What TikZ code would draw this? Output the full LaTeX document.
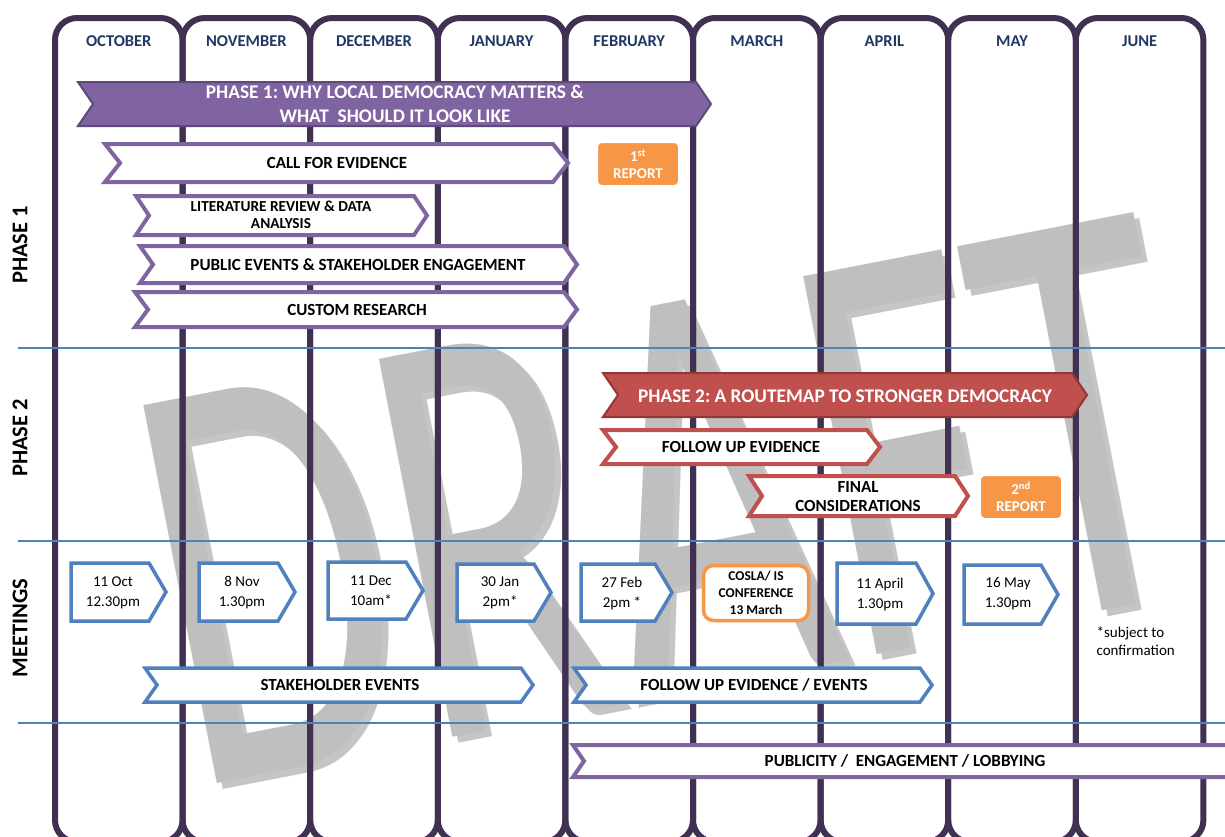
\documentclass[tikz,border=0pt]{standalone}
\usepackage{fontspec}
\setmainfont{Carlito}
\usepackage{graphicx}
\usetikzlibrary{shadows}
\frenchspacing

\definecolor{colline}{HTML}{403152}
\definecolor{monthblue}{HTML}{1F3864}
\definecolor{purpfill}{HTML}{8064A2}
\definecolor{purpdark}{HTML}{5F497A}
\definecolor{redfill}{HTML}{C0504D}
\definecolor{reddark}{HTML}{943634}
\definecolor{orangefill}{HTML}{F79646}
\definecolor{meetblue}{HTML}{4F81BD}
\definecolor{wmgrey}{HTML}{BFBFBF}

% chevron band: style, left, right, top, bottom, depth
\newcommand{\chevband}[6]{%
  \draw[#1] (#2,#4) -- ({#3-#6},#4) -- (#3,{(#4+#5)/2}) -- ({#3-#6},#5)
    -- (#2,#5) -- ({#2+#6},{(#4+#5)/2}) -- cycle;}
% meeting tag: left, right, top, bottom, depth
\newcommand{\datebox}[5]{%
  \draw[meetline] (#1,#3) -- ({#2-#5},#3) -- (#2,{(#3+#4)/2}) -- ({#2-#5},#4)
    -- (#1,#4) -- cycle;}

\tikzset{
  monthcol/.style={draw=colline, line width=6pt, rounded corners=22pt},
  month/.style={text=monthblue, font=\bfseries\fontsize{16.5}{18}\selectfont},
  rowlabel/.style={rotate=90, font=\bfseries\fontsize{22.5}{24}\selectfont},
  sepline/.style={draw=meetblue, line width=1.1pt},
  phaseone/.style={fill=purpfill, draw=purpdark, line width=2pt},
  phasetwo/.style={fill=redfill, draw=reddark, line width=2pt},
  purpband/.style={fill=white, draw=purpfill, line width=4pt},
  redband/.style={fill=white, draw=redfill, line width=4pt},
  blueband/.style={fill=white, draw=meetblue, line width=3.5pt},
  meetline/.style={fill=white, draw=meetblue, line width=3.5pt},
  phasetext/.style={text=white, align=center, font=\bfseries\fontsize{19.3}{23.5}\selectfont},
  bandtext/.style={align=center, font=\bfseries\fontsize{17}{19}\selectfont},
  meettext/.style={align=center, font=\fontsize{15}{20}\selectfont},
  report/.style={fill=orangefill, draw=white, line width=6pt, rounded corners=7pt,
    minimum width=86pt, minimum height=48pt, text=white, align=center,
    font=\bfseries\fontsize{15}{17}\selectfont,
    drop shadow={opacity=0.25, shadow xshift=1.5pt, shadow yshift=-2pt}},
  cosla/.style={fill=white, draw=orangefill, line width=3.5pt, rounded corners=10pt,
    minimum width=105pt, minimum height=55pt, align=center,
    font=\bfseries\fontsize{13.5}{17}\selectfont},
  wmark/.style={rotate=11, inner sep=0pt, font=\fontsize{600}{600}\selectfont}
}

\begin{document}
\begin{tikzpicture}[x=1pt, y=-1pt]
  \useasboundingbox (0,0) rectangle (1225,836);
  \clip (0,0) rectangle (1225,836);
  \fill[white] (0,0) rectangle (1225,836);

  % watermark
  \node (wmshadow) [wmark, text=black!45, opacity=0.5] at (671,506) {\scalebox{0.645}[1]{DRAFT}};
  \node (wm) [wmark, text=wmgrey] at (665,500) {\scalebox{0.645}[1]{DRAFT}};

  % month columns
  \foreach \i in {0,...,8}
    \draw[monthcol] ({55+127.6*\i},18) rectangle ({55+127.6*(\i+1)},842);
  \foreach \m [count=\i from 0] in {OCTOBER,NOVEMBER,DECEMBER,JANUARY,FEBRUARY,MARCH,APRIL,MAY,JUNE}
    \node (mon\i) [month] at ({55+127.6*(\i+0.5)},41) {\m};

  % rows
  \draw[sepline] (18,348) -- (1225,348);
  \draw[sepline] (18,541) -- (1225,541);
  \draw[sepline] (18,723) -- (1225,723);
  \node (rowa) [rowlabel] at (20,245) {PHASE 1};
  \node (rowb) [rowlabel] at (20,438) {PHASE 2};
  \node (rowc) [rowlabel] at (20,628) {MEETINGS};

  % phase 1
  \chevband{phaseone}{78}{711}{82}{126}{15}
  \node (ph1) [phasetext] at (395,104) {PHASE 1: WHY LOCAL DEMOCRACY MATTERS \&\\WHAT\ \ SHOULD IT LOOK LIKE};
  \chevband{purpband}{105}{568}{144}{182}{15}
  \node (cfe) [bandtext] at (337,163) {CALL FOR EVIDENCE};
  \chevband{purpband}{136}{427}{196}{235}{13}
  \node (lit) [bandtext, font=\bfseries\fontsize{15.3}{17}\selectfont] at (281,215) {LITERATURE REVIEW \& DATA\\ANALYSIS};
  \chevband{purpband}{140}{577}{246}{283}{13}
  \node (pub) [bandtext] at (358,265) {PUBLIC EVENTS \& STAKEHOLDER ENGAGEMENT};
  \chevband{purpband}{135}{577}{292}{327}{13}
  \node (cus) [bandtext] at (357,310) {CUSTOM RESEARCH};
  \node (rep1) [report] at (638,164) {1\textsuperscript{st}\\REPORT};

  % phase 2
  \chevband{phasetwo}{603}{1087}{373}{417}{15}
  \node (ph2) [phasetext] at (845,396) {PHASE 2: A ROUTEMAP TO STRONGER DEMOCRACY};
  \chevband{redband}{603}{880}{430}{464}{13}
  \node (fue) [bandtext] at (741,447) {FOLLOW UP EVIDENCE};
  \chevband{redband}{749}{968}{476}{516}{13}
  \node (fin) [bandtext] at (858,497) {FINAL\\CONSIDERATIONS};
  \node (rep2) [report] at (1021,497) {2\textsuperscript{nd}\\REPORT};

  % meetings
  \datebox{71}{166}{563}{621}{17}
  \node (oct) [meettext] at (113,593) {11 Oct\\12.30pm};
  \datebox{199}{295}{563}{621}{17}
  \node (nov) [meettext] at (242,593) {8 Nov\\1.30pm};
  \datebox{328}{423}{562}{619}{17}
  \node (dec) [meettext] at (371,591) {11 Dec\\10am*};
  \datebox{457}{551}{564}{621}{17}
  \node (jan) [meettext] at (500,593) {30 Jan\\2pm*};
  \datebox{581}{672}{564}{621}{17}
  \node (feb) [meettext] at (622,593) {27 Feb\\2pm *};
  \node (conf) [cosla] at (756,593) {COSLA/ IS\\CONFERENCE\\13 March};
  \datebox{837}{933}{563}{624}{17}
  \node (apr) [meettext] at (880,594) {11 April\\1.30pm};
  \datebox{964}{1058}{565}{624}{17}
  \node (may) [meettext] at (1008,594) {16 May\\1.30pm};
  \node (note) [meettext, align=left, anchor=west, font=\fontsize{15}{18}\selectfont] at (1093,641) {*subject to\\confirmation};

  \chevband{blueband}{145}{533}{668}{702}{12}
  \node (stk) [bandtext] at (340,685) {STAKEHOLDER EVENTS};
  \chevband{blueband}{574}{932}{668}{702}{12}
  \node (fuev) [bandtext] at (754,685) {FOLLOW UP EVIDENCE / EVENTS};

  % publicity
  \chevband{purpband}{573}{1260}{745}{777}{11}
  \node (pubeng) [bandtext] at (905,761) {PUBLICITY /\ \ ENGAGEMENT / LOBBYING};
\end{tikzpicture}
\end{document}
